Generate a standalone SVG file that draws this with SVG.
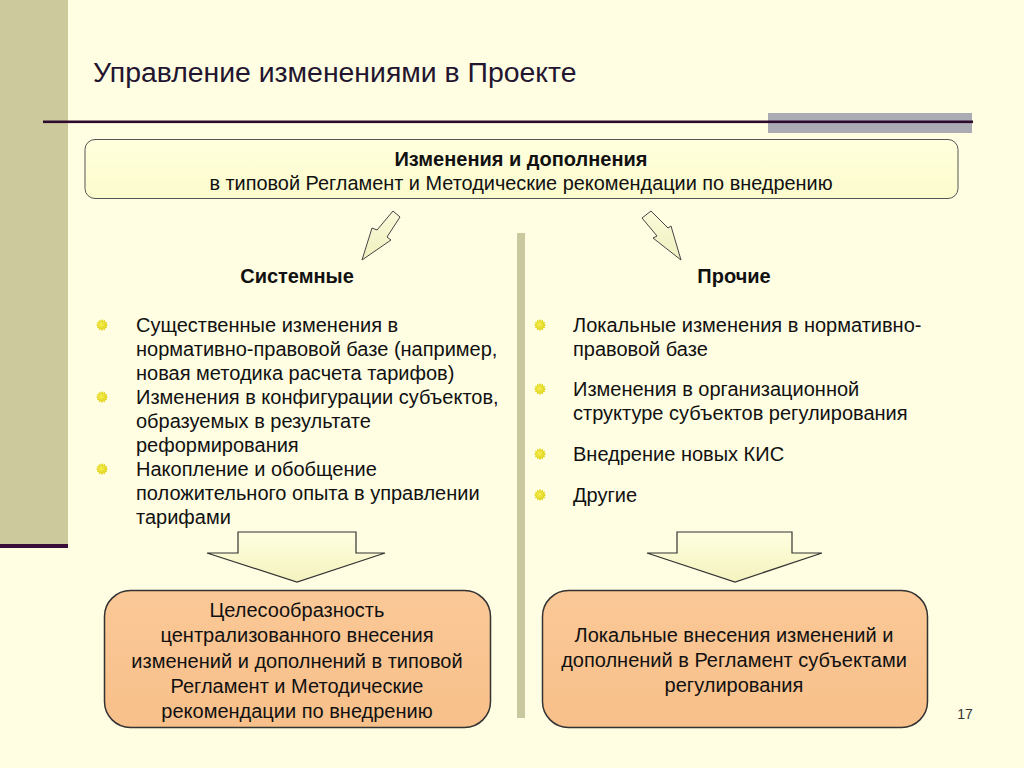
<svg xmlns="http://www.w3.org/2000/svg" width="1024" height="768" viewBox="0 0 1024 768">
<defs>
<style>
text{font-family:"Liberation Sans",Arial,sans-serif;fill:#111;}
.t{font-size:20px;}
.b{font-size:20px;font-weight:bold;}
.c{text-anchor:middle;}
.title{font-size:28.4px;fill:#231530;}
.arrow{fill:url(#ag);stroke:#444;stroke-width:1;stroke-linejoin:miter;}
.darrow{fill:url(#dg);stroke:#333;stroke-width:1.2;}
.res{fill:url(#rg);stroke:#333;stroke-width:1.5;}
</style>
<linearGradient id="ag" x1="0" y1="0" x2="0" y2="1"><stop offset="0" stop-color="#FAFAD8"/><stop offset="1" stop-color="#F0F0C0"/></linearGradient>
<linearGradient id="dg" x1="0" y1="0" x2="0" y2="1"><stop offset="0" stop-color="#FFFFE0"/><stop offset="1" stop-color="#F4F2BE"/></linearGradient>
<linearGradient id="rg" x1="0" y1="0" x2="0" y2="1"><stop offset="0" stop-color="#FAC897"/><stop offset="1" stop-color="#F8C08A"/></linearGradient>
<linearGradient id="tg" x1="0" y1="0" x2="0" y2="1"><stop offset="0" stop-color="#FFFFDE"/><stop offset="1" stop-color="#FCFBCC"/></linearGradient>
<radialGradient id="bg" cx="0.45" cy="0.45" r="0.6"><stop offset="0" stop-color="#F6EE50"/><stop offset="1" stop-color="#D8CC10"/></radialGradient>
<symbol id="bullet" viewBox="-6 -6 12 12" overflow="visible">
<polygon points="0,-6 1.2,-4.3 3,-5.2 3,-3.2 5.2,-3 4.3,-1.2 6,0 4.3,1.2 5.2,3 3,3.2 3,5.2 1.2,4.3 0,6 -1.2,4.3 -3,5.2 -3,3.2 -5.2,3 -4.3,1.2 -6,0 -4.3,-1.2 -5.2,-3 -3,-3.2 -3,-5.2 -1.2,-4.3" fill="url(#bg)"/>
</symbol>
</defs>
<rect width="1024" height="768" fill="#FFFEE2"/>
<g id="decor">
<rect x="0" y="0" width="68" height="545" fill="#CCCA9C"/>
<rect x="0" y="544" width="68" height="4" fill="#3A0C38"/>
<rect x="768" y="113" width="204" height="20" fill="#ABABB3"/>
<rect x="43" y="120.5" width="930" height="2.6" fill="#2E0A2E"/>
<rect x="517" y="233" width="8" height="485" fill="#C9C89E"/>
</g>
<g id="title"><text class="title" x="93" y="82">Управление изменениями в Проекте</text></g>
<g id="top-box">
<rect x="85" y="139.5" width="873" height="59" rx="10" fill="url(#tg)" stroke="#555" stroke-width="1"/>
<text class="b c" x="521" y="166">Изменения и дополнения</text>
<text class="t c" x="521" y="190" style="font-size:19.9px">в типовой Регламент и Методические рекомендации по внедрению</text>
</g>
<g id="connectors">
<polygon class="arrow" points="393,211 400,217 387,237 391,240 362,260 372,228 377,230"/>
<polygon class="arrow" points="642,218 651,211 668,228 671,226 681,260 653,238 657,236"/>
<polygon class="darrow" points="238,532 356,532 356,553 385,553 297,582 207,553 238,553"/>
<polygon class="darrow" points="677,532 792,532 792,553 822,553 735,582 647,553 677,553"/>
</g>
<g id="left-header"><text class="b c" x="297" y="283">Системные</text></g>
<g id="right-header"><text class="b c" x="734" y="283">Прочие</text></g>
<g id="left-list">
<use href="#bullet" x="96" y="319" width="12" height="12"/>
<use href="#bullet" x="96" y="391" width="12" height="12"/>
<use href="#bullet" x="96" y="463" width="12" height="12"/>
<text class="t" x="136" y="332">Существенные изменения в</text>
<text class="t" x="136" y="356">нормативно-правовой базе (например,</text>
<text class="t" x="136" y="380">новая методика расчета тарифов)</text>
<text class="t" x="136" y="404">Изменения в конфигурации субъектов,</text>
<text class="t" x="136" y="428">образуемых в результате</text>
<text class="t" x="136" y="452">реформирования</text>
<text class="t" x="136" y="476">Накопление и обобщение</text>
<text class="t" x="136" y="500">положительного опыта в управлении</text>
<text class="t" x="136" y="524">тарифами</text>
</g>
<g id="right-list">
<use href="#bullet" x="534" y="319" width="12" height="12"/>
<use href="#bullet" x="534" y="383" width="12" height="12"/>
<use href="#bullet" x="534" y="448" width="12" height="12"/>
<use href="#bullet" x="534" y="489" width="12" height="12"/>
<text class="t" x="573" y="332">Локальные изменения в нормативно-</text>
<text class="t" x="573" y="356">правовой базе</text>
<text class="t" x="573" y="396">Изменения в организационной</text>
<text class="t" x="573" y="420">структуре субъектов регулирования</text>
<text class="t" x="573" y="461">Внедрение новых КИС</text>
<text class="t" x="573" y="502">Другие</text>
</g>
<g id="left-result">
<rect class="res" x="104.5" y="590.5" width="386" height="137" rx="26"/>
<text class="t c" x="297" y="617">Целесообразность</text>
<text class="t c" x="297" y="642">централизованного внесения</text>
<text class="t c" x="297" y="668">изменений и дополнений в типовой</text>
<text class="t c" x="297" y="693">Регламент и Методические</text>
<text class="t c" x="297" y="718">рекомендации по внедрению</text>
</g>
<g id="right-result">
<rect class="res" x="542.5" y="590.5" width="385" height="137" rx="26"/>
<text class="t c" x="734" y="642">Локальные внесения изменений и</text>
<text class="t c" x="734" y="667">дополнений в Регламент субъектами</text>
<text class="t c" x="734" y="692">регулирования</text>
</g>
<g id="page-number"><text x="965" y="719" style="font-size:14px;fill:#333" text-anchor="middle">17</text></g>
</svg>
